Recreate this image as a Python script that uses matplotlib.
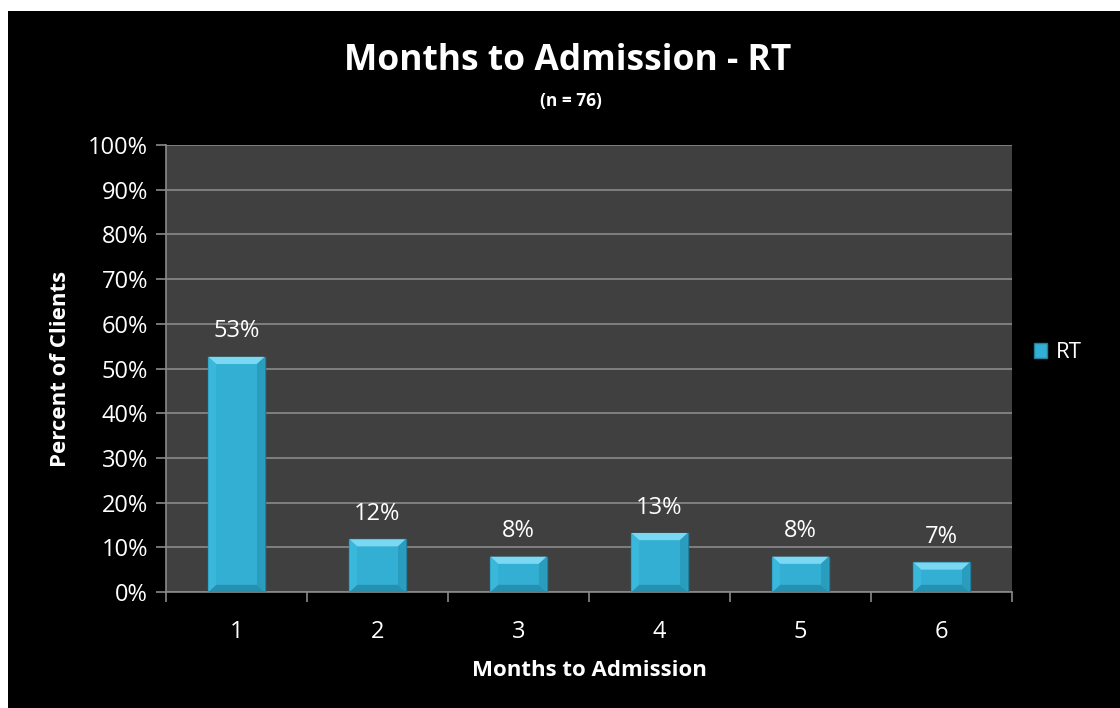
import matplotlib.pyplot as plt
from matplotlib.patches import Rectangle, Polygon

months = ["1", "2", "3", "4", "5", "6"]
percents = [52.6, 11.8, 7.9, 13.2, 7.9, 6.6]
bar_labels = ["53%", "12%", "8%", "13%", "8%", "7%"]
y_ticks = list(range(0, 101, 10))

BAR_COLOR = "#33afd3"
BAR_EDGE = "#1f7f9c"
PLOT_BG = "#404040"
GRID = "#8a8a8a"

plt.rcParams["font.family"] = ["Open Sans", "DejaVu Sans"]

fig = plt.figure(figsize=(11.2, 7.08), dpi=100, facecolor="white")
# black panel with a thin white border at top and left
fig.patches.append(Rectangle((8 / 1120, 0), 1 - 8 / 1120, 1 - 11 / 708,
                             transform=fig.transFigure, facecolor="black",
                             edgecolor="none", zorder=-10))

ax = fig.add_axes([166 / 1120, 1 - 592 / 708, 846 / 1120, 447 / 708])
ax.set_facecolor(PLOT_BG)

x = list(range(len(months)))
bars = ax.bar(x, percents, width=0.4, color=BAR_COLOR, edgecolor=BAR_EDGE,
              linewidth=1.0, zorder=3)

# bevel look: light top face, darker bottom and sides
bx, by = 0.055, 1.6
for rect in bars:
    x0, w, h = rect.get_x(), rect.get_width(), rect.get_height()
    x1 = x0 + w
    d = min(by, h / 3)
    faces = [
        ([(x0, h), (x1, h), (x1 - bx, h - d), (x0 + bx, h - d)], "#7ad8f2"),
        ([(x0, 0), (x1, 0), (x1 - bx, d), (x0 + bx, d)], "#2590b0"),
        ([(x0, 0), (x0, h), (x0 + bx, h - d), (x0 + bx, d)], "#39b8dc"),
        ([(x1, 0), (x1, h), (x1 - bx, h - d), (x1 - bx, d)], "#2a9dbf"),
    ]
    for pts, col in faces:
        ax.add_patch(Polygon(pts, closed=True, facecolor=col, edgecolor="none", zorder=3.5))

for rect, lab in zip(bars, bar_labels):
    ax.text(rect.get_x() + rect.get_width() / 2, rect.get_height() + 3, lab,
            ha="center", va="bottom", color="white", fontsize=17, zorder=4)

ax.set_xlim(-0.5, len(months) - 0.5)
ax.set_ylim(0, 100)
ax.set_yticks(y_ticks)
ax.set_yticklabels([f"{t}%" for t in y_ticks])
ax.yaxis.grid(True, color=GRID, linewidth=1.2, zorder=0)
ax.set_axisbelow(True)

ax.set_xticks(x)
ax.set_xticklabels(months)
ax.set_xticks([i - 0.5 for i in range(len(months) + 1)], minor=True)
ax.tick_params(axis="x", which="major", length=0, pad=20, colors="white", labelsize=17)
ax.tick_params(axis="x", which="minor", length=7, width=1.2, color=GRID)
ax.tick_params(axis="y", length=7, width=1.2, color=GRID, labelcolor="white",
               labelsize=17, pad=6)

for side in ["top", "right"]:
    ax.spines[side].set_visible(False)
for side in ["left", "bottom"]:
    ax.spines[side].set_color(GRID)
    ax.spines[side].set_linewidth(1.2)

ax.set_xlabel("Months to Admission", color="white", fontsize=16,
              fontweight="bold", labelpad=12)
ax.set_ylabel("Percent of Clients", color="white", fontsize=16,
              fontweight="bold", labelpad=12)

fig.text(568 / 1120, 1 - 61 / 708, "Months to Admission - RT", ha="center",
         va="center", color="white", fontsize=25.5, fontweight="bold")
fig.text(571 / 1120, 1 - 101 / 708, "(n = 76)", ha="center", va="center",
         color="white", fontsize=12.5, fontweight="bold")

leg = ax.legend([bars[0]], ["RT"], loc="center left", bbox_to_anchor=(1.002, 0.535),
                frameon=False, fontsize=16, handlelength=0.6, handleheight=0.6,
                handletextpad=0.4)
for t in leg.get_texts():
    t.set_color("white")

fig.savefig("out.png", dpi=100, facecolor=fig.get_facecolor())
